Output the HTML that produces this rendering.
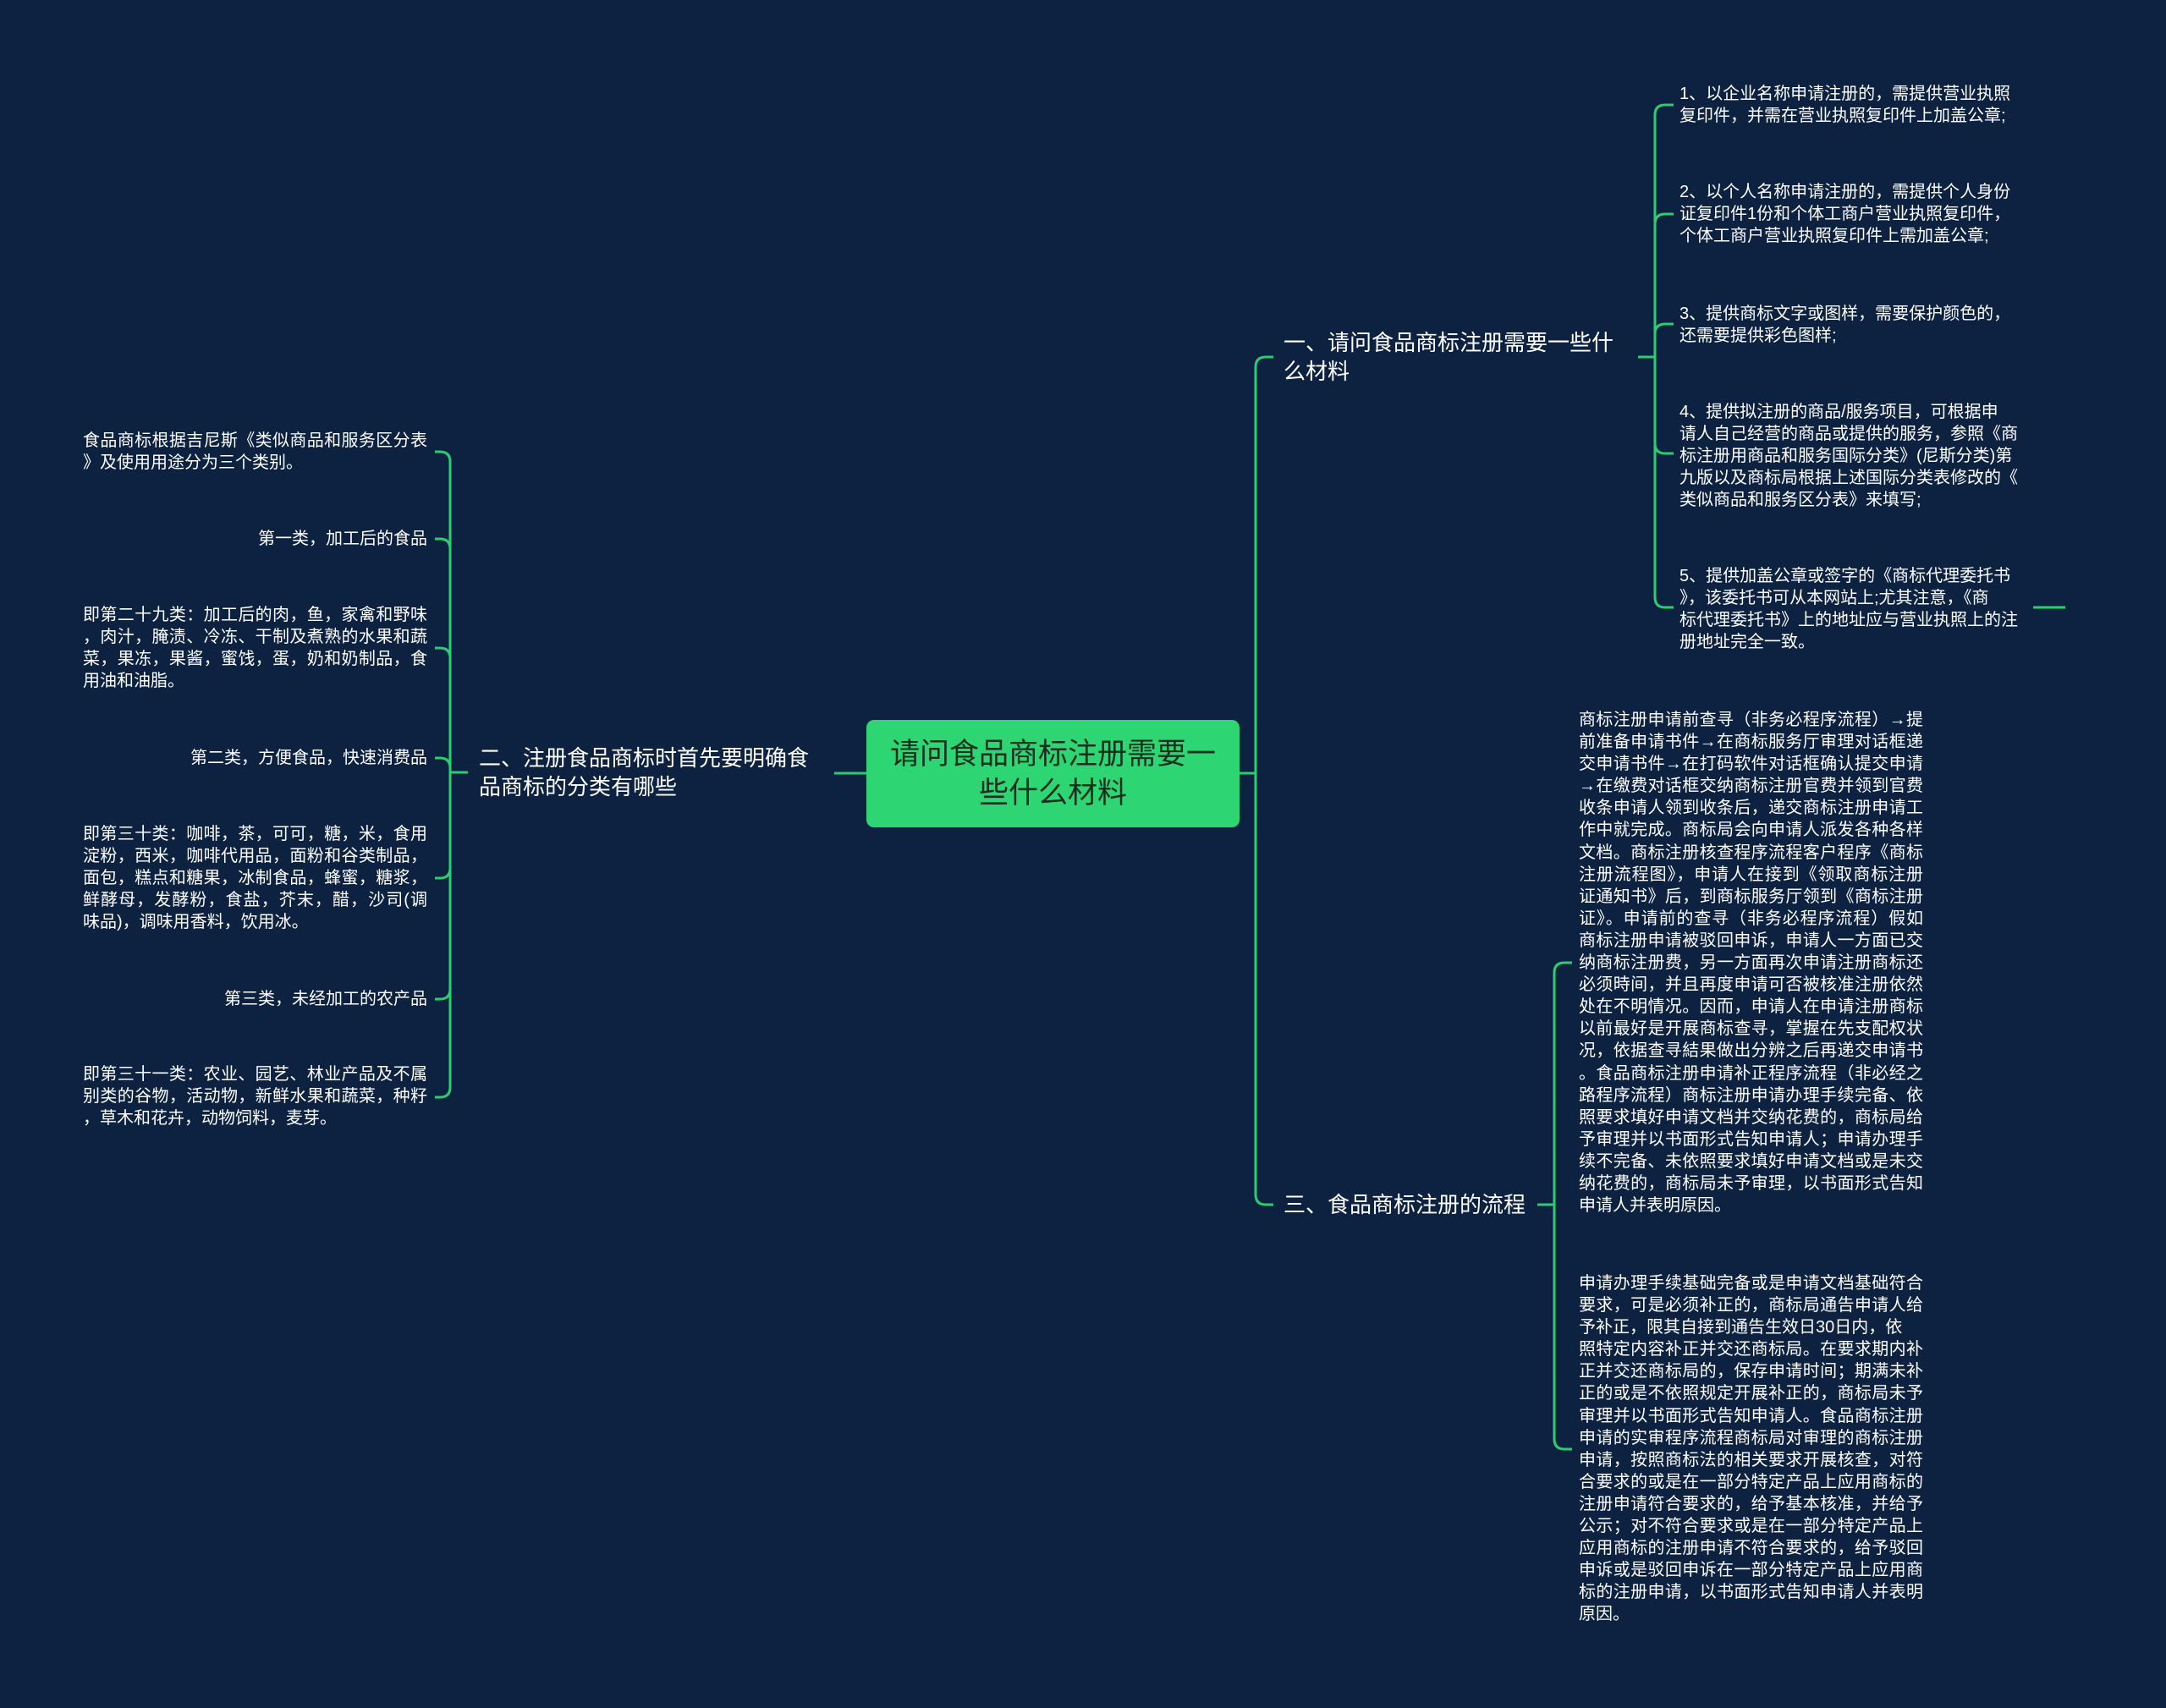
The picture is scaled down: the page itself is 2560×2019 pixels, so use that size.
<!DOCTYPE html>
<html><head><meta charset="utf-8">
<style>
html,body{margin:0;padding:0;}
body{width:2560px;height:2019px;background:#0d2240;position:relative;overflow:hidden;font-family:"Liberation Sans","Noto Sans CJK SC",sans-serif;color:#fff;}
.t{position:absolute;font-size:20px;line-height:26.1px;white-space:nowrap;}
.t div{white-space:nowrap;}
.j div.f{text-align:justify;text-align-last:justify;white-space:normal;}
.m{position:absolute;font-size:26px;line-height:34px;color:#fff;white-space:nowrap;}
#c{position:absolute;left:1024px;top:851px;width:441px;height:127px;background:#2ed573;border-radius:9px;color:#15301f;font-size:35px;line-height:46px;text-align:center;display:flex;flex-direction:column;justify-content:center;}
svg{position:absolute;left:0;top:0;}
</style></head><body>
<svg width="2560" height="2019" fill="none" stroke="#2ecc71" stroke-width="3">
<path d="M986 914 H1024"/>
<path d="M1465 914 H1484 V434 Q1484 422 1496 422 H1505"/>
<path d="M1484 914 V1412 Q1484 1424 1496 1424 H1505"/>
<path d="M1936 422 H1956"/>
<path d="M1956 422 V136 Q1956 124 1968 124 H1978"/>
<path d="M1956 422 V265 Q1956 253 1968 253 H1978"/>
<path d="M1956 422 V395 Q1956 383 1968 383 H1978"/>
<path d="M1956 422 V524 Q1956 536 1968 536 H1978"/>
<path d="M1956 422 V706 Q1956 718 1968 718 H1978"/>
<path d="M2403 718 H2441"/>
<path d="M1817 1424 H1837"/>
<path d="M1837 1424 V1150 Q1837 1138 1849 1138 H1858"/>
<path d="M1837 1424 V1701 Q1837 1713 1849 1713 H1858"/>
<path d="M553 913 H532"/>
<path d="M532 913 V546 Q532 534 520 534 H514"/>
<path d="M532 913 V649 Q532 637 520 637 H514"/>
<path d="M532 913 V778 Q532 766 520 766 H514"/>
<path d="M532 913 V908 Q532 896 520 896 H514"/>
<path d="M532 913 V1026 Q532 1038 520 1038 H514"/>
<path d="M532 913 V1169 Q532 1181 520 1181 H514"/>
<path d="M532 913 V1285 Q532 1297 520 1297 H514"/>
</svg>

<div id="c"><div>请问食品商标注册需要一</div><div>些什么材料</div></div>

<div class="m" style="left:1517px;top:388px;">一、请问食品商标注册需要一些什<br>么材料</div>
<div class="m" style="left:566px;top:879px;">二、注册食品商标时首先要明确食<br>品商标的分类有哪些</div>
<div class="m" style="left:1517px;top:1407px;">三、食品商标注册的流程</div>

<div class="t" style="left:1985px;top:98px;">1、以企业名称申请注册的，需提供营业执照<br>复印件，并需在营业执照复印件上加盖公章;</div>
<div class="t" style="left:1985px;top:214px;">2、以个人名称申请注册的，需提供个人身份<br>证复印件1份和个体工商户营业执照复印件，<br>个体工商户营业执照复印件上需加盖公章;</div>
<div class="t" style="left:1985px;top:358px;">3、提供商标文字或图样，需要保护颜色的，<br>还需要提供彩色图样;</div>
<div class="t" style="left:1985px;top:474px;">4、提供拟注册的商品/服务项目，可根据申<br>请人自己经营的商品或提供的服务，参照《商<br>标注册用商品和服务国际分类》(尼斯分类)第<br>九版以及商标局根据上述国际分类表修改的《<br>类似商品和服务区分表》来填写;</div>
<div class="t" style="left:1985px;top:668px;">5、提供加盖公章或签字的《商标代理委托书<br>》，该委托书可从本网站上;尤其注意，《商<br>标代理委托书》上的地址应与营业执照上的注<br>册地址完全一致。</div>

<div class="t j" style="left:98px;top:508px;width:407px;"><div class="f">食品商标根据吉尼斯《类似商品和服务区分表</div><div>》及使用用途分为三个类别。</div></div>
<div class="t" style="left:98px;top:624px;width:407px;text-align:right;">第一类，加工后的食品</div>
<div class="t j" style="left:98px;top:714px;width:407px;"><div class="f">即第二十九类：加工后的肉，鱼，家禽和野味</div><div class="f">，肉汁，腌渍、冷冻、干制及煮熟的水果和蔬</div><div class="f">菜，果冻，果酱，蜜饯，蛋，奶和奶制品，食</div><div>用油和油脂。</div></div>
<div class="t" style="left:98px;top:883px;width:407px;text-align:right;">第二类，方便食品，快速消费品</div>
<div class="t j" style="left:98px;top:973px;width:407px;"><div class="f">即第三十类：咖啡，茶，可可，糖，米，食用</div><div class="f">淀粉，西米，咖啡代用品，面粉和谷类制品，</div><div class="f">面包，糕点和糖果，冰制食品，蜂蜜，糖浆，</div><div class="f">鲜酵母，发酵粉，食盐，芥末，醋，沙司(调</div><div>味品)，调味用香料，饮用冰。</div></div>
<div class="t" style="left:98px;top:1168px;width:407px;text-align:right;">第三类，未经加工的农产品</div>
<div class="t j" style="left:98px;top:1257px;width:407px;"><div class="f">即第三十一类：农业、园艺、林业产品及不属</div><div class="f">别类的谷物，活动物，新鲜水果和蔬菜，种籽</div><div>，草木和花卉，动物饲料，麦芽。</div></div>

<div class="t j" style="left:1866px;top:838px;width:407px;">
<div class="f">商标注册申请前查寻（非务必程序流程）→提</div>
<div class="f">前准备申请书件→在商标服务厅审理对话框递</div>
<div class="f">交申请书件→在打码软件对话框确认提交申请</div>
<div class="f">→在缴费对话框交纳商标注册官费并领到官费</div>
<div class="f">收条申请人领到收条后，递交商标注册申请工</div>
<div class="f">作中就完成。商标局会向申请人派发各种各样</div>
<div class="f">文档。商标注册核查程序流程客户程序《商标</div>
<div class="f">注册流程图》，申请人在接到《领取商标注册</div>
<div class="f">证通知书》后，到商标服务厅领到《商标注册</div>
<div class="f">证》。申请前的查寻（非务必程序流程）假如</div>
<div class="f">商标注册申请被驳回申诉，申请人一方面已交</div>
<div class="f">纳商标注册费，另一方面再次申请注册商标还</div>
<div class="f">必须時间，并且再度申请可否被核准注册依然</div>
<div class="f">处在不明情况。因而，申请人在申请注册商标</div>
<div class="f">以前最好是开展商标查寻，掌握在先支配权状</div>
<div class="f">况，依据查寻結果做出分辨之后再递交申请书</div>
<div class="f">。食品商标注册申请补正程序流程（非必经之</div>
<div class="f">路程序流程）商标注册申请办理手续完备、依</div>
<div class="f">照要求填好申请文档并交纳花费的，商标局给</div>
<div class="f">予审理并以书面形式告知申请人；申请办理手</div>
<div class="f">续不完备、未依照要求填好申请文档或是未交</div>
<div class="f">纳花费的，商标局未予审理，以书面形式告知</div>
<div>申请人并表明原因。</div>
</div>

<div class="t j" style="left:1866px;top:1504px;width:407px;">
<div class="f">申请办理手续基础完备或是申请文档基础符合</div>
<div class="f">要求，可是必须补正的，商标局通告申请人给</div>
<div>予补正，限其自接到通告生效日30日内，依</div>
<div class="f">照特定内容补正并交还商标局。在要求期内补</div>
<div class="f">正并交还商标局的，保存申请时间；期满未补</div>
<div class="f">正的或是不依照规定开展补正的，商标局未予</div>
<div class="f">审理并以书面形式告知申请人。食品商标注册</div>
<div class="f">申请的实审程序流程商标局对审理的商标注册</div>
<div class="f">申请，按照商标法的相关要求开展核查，对符</div>
<div class="f">合要求的或是在一部分特定产品上应用商标的</div>
<div class="f">注册申请符合要求的，给予基本核准，并给予</div>
<div class="f">公示；对不符合要求或是在一部分特定产品上</div>
<div class="f">应用商标的注册申请不符合要求的，给予驳回</div>
<div class="f">申诉或是驳回申诉在一部分特定产品上应用商</div>
<div class="f">标的注册申请，以书面形式告知申请人并表明</div>
<div>原因。</div>
</div>
</body></html>
